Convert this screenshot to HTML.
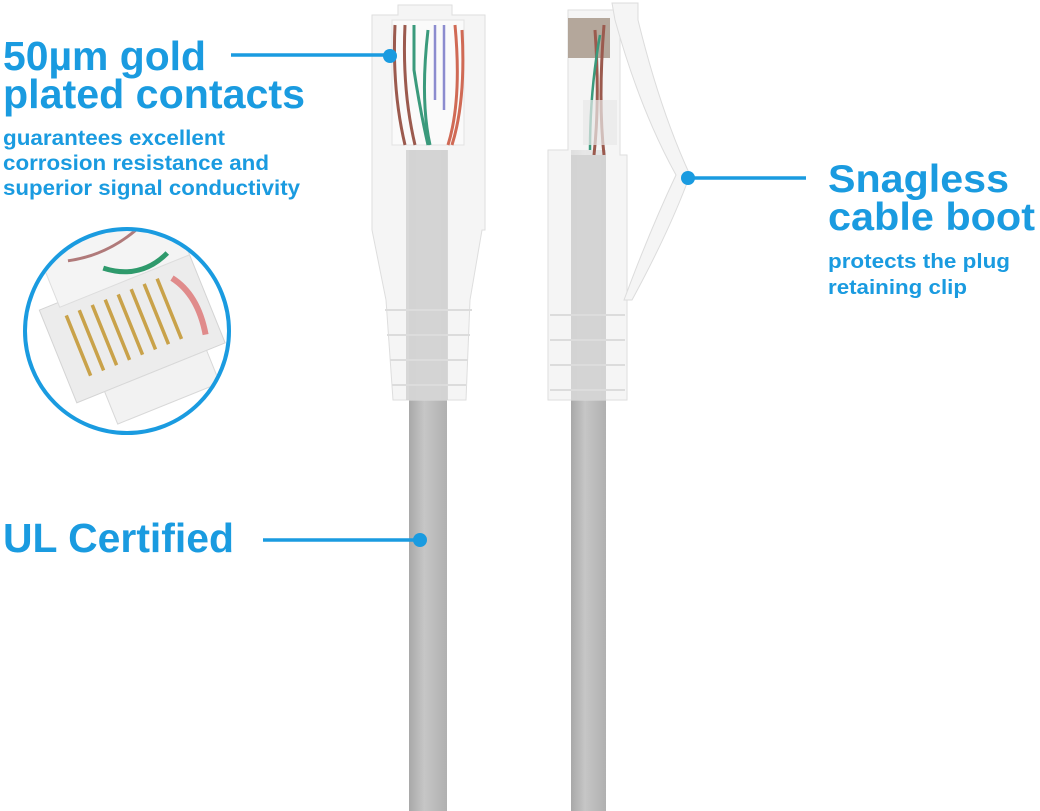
<!DOCTYPE html>
<html><head><meta charset="utf-8"><style>
body{margin:0;width:1040px;height:811px;background:#fff;overflow:hidden;font-family:"Liberation Sans",Arial,sans-serif;}
svg{position:absolute;left:0;top:0}
</style></head><body>
<svg width="1040" height="811" viewBox="0 0 1040 811">
<defs>
<linearGradient id="cab" x1="0" x2="1"><stop offset="0" stop-color="#a8a8a8"/><stop offset="0.4" stop-color="#c6c6c6"/><stop offset="1" stop-color="#b0b0b0"/></linearGradient>
<clipPath id="cc"><circle cx="127" cy="331" r="100"/></clipPath>
</defs>
<rect x="409" y="150" width="38" height="661" fill="url(#cab)"/>
<rect x="571" y="150" width="35" height="661" fill="url(#cab)"/>
<!-- left plug -->
<path d="M398 5 H452 V15 H485 V230 H482 L470 300 L466 400 H393 L386 300 L372 230 V15 H398Z" fill="#f1f1f1" fill-opacity="0.75" stroke="#dedede"/>
<rect x="392" y="20" width="72" height="125" fill="#fafafa" stroke="#e2e2e2"/>
<path d="M395 25 Q392 90 405 145 M405 25 Q402 90 415 145" stroke="#9b5a4e" stroke-width="3" fill="none"/>
<path d="M414 25 V70 Q420 110 428 145 M428 30 Q420 100 430 145" stroke="#3a9a7c" stroke-width="3" fill="none"/>
<path d="M435 25 V100 M444 25 V110" stroke="#8c8ccf" stroke-width="2.5" fill="none"/>
<path d="M455 25 Q462 100 448 145 M462 30 Q466 100 452 145" stroke="#d06a55" stroke-width="3" fill="none"/>
<rect x="406" y="150" width="42" height="250" fill="#cfcfcf" fill-opacity="0.8"/>
<g stroke="#dcdcdc" stroke-width="2"><path d="M385 310 H472 M387 335 H470 M390 360 H468 M392 385 H466"/></g>
<!-- right plug -->
<path d="M568 10 H620 V155 H627 V400 H548 V150 H568Z" fill="#f1f1f1" fill-opacity="0.75" stroke="#dedede"/>
<path d="M612 3 H638 V20 Q660 110 690 175 Q670 230 632 300 L624 300 Q650 230 676 175 Q640 110 615 20Z" fill="#f5f5f5" stroke="#dcdcdc"/>
<rect x="568" y="18" width="42" height="40" fill="#a49384" fill-opacity="0.8"/>
<path d="M595 30 Q600 100 594 155 M604 25 Q598 100 604 155" stroke="#9b5a4e" stroke-width="3" fill="none"/>
<path d="M600 35 Q590 90 590 150" stroke="#3a9a7c" stroke-width="2.5" fill="none"/>
<rect x="583" y="100" width="34" height="45" fill="#e8e8e8" fill-opacity="0.7"/>
<rect x="571" y="155" width="35" height="245" fill="#cfcfcf" fill-opacity="0.8"/>
<g stroke="#dcdcdc" stroke-width="2"><path d="M550 315 H625 M550 340 H625 M550 365 H625 M550 390 H625"/></g>
<!-- inset circle -->
<circle cx="127" cy="331" r="102" fill="#fff"/>
<g clip-path="url(#cc)">
<g transform="translate(135 320) rotate(-22)">
<rect x="-85" y="-45" width="160" height="100" fill="#ececec" stroke="#d4d4d4"/>
<rect x="-65" y="-95" width="140" height="55" fill="#f4f4f4" stroke="#dddddd"/>
<g stroke="#c9a24a" stroke-width="3.5"><path d="M-62 -30 V35 M-48 -30 V35 M-34 -30 V35 M-20 -30 V35 M-6 -30 V35 M8 -30 V35 M22 -30 V35 M36 -30 V35"/></g>
<path d="M-10 -60 Q20 -35 55 -50" stroke="#2f9a6c" stroke-width="5" fill="none"/>
<path d="M-40 -80 Q0 -70 40 -85" stroke="#b07a7a" stroke-width="3" fill="none"/>
<path d="M50 -25 Q68 0 60 40" stroke="#e08b8b" stroke-width="6" fill="none"/>
<rect x="-55" y="55" width="110" height="35" fill="#f2f2f2" stroke="#d8d8d8"/>
</g>
</g>
<circle cx="127" cy="331" r="102" fill="none" stroke="#1a9be0" stroke-width="4"/>
<!-- connectors -->
<g stroke="#1a9be0" stroke-width="3.5"><line x1="231" y1="55" x2="390" y2="55"/><line x1="690" y1="178" x2="806" y2="178"/><line x1="263" y1="540" x2="420" y2="540"/></g>
<g fill="#1a9be0"><circle cx="390" cy="56" r="7"/><circle cx="688" cy="178" r="7"/><circle cx="420" cy="540" r="7"/></g>
<g fill="#1a9be0" font-family="Liberation Sans, Arial, sans-serif" font-weight="bold">
<text x="3" y="70" font-size="41" textLength="203" lengthAdjust="spacingAndGlyphs">50µm gold</text>
<text x="3" y="108" font-size="41" textLength="302" lengthAdjust="spacingAndGlyphs">plated contacts</text>
<text x="3" y="145" font-size="21" textLength="222" lengthAdjust="spacingAndGlyphs">guarantees excellent</text>
<text x="3" y="170" font-size="21" textLength="266" lengthAdjust="spacingAndGlyphs">corrosion resistance and</text>
<text x="3" y="195" font-size="21" textLength="297" lengthAdjust="spacingAndGlyphs">superior signal conductivity</text>
<text x="828" y="192" font-size="39" textLength="181" lengthAdjust="spacingAndGlyphs">Snagless</text>
<text x="828" y="230" font-size="39" textLength="207" lengthAdjust="spacingAndGlyphs">cable boot</text>
<text x="828" y="268" font-size="20" textLength="182" lengthAdjust="spacingAndGlyphs">protects the plug</text>
<text x="828" y="294" font-size="20" textLength="139" lengthAdjust="spacingAndGlyphs">retaining clip</text>
<text x="3" y="552" font-size="41" textLength="231" lengthAdjust="spacingAndGlyphs">UL Certified</text>
</g>
</svg>
</body></html>
